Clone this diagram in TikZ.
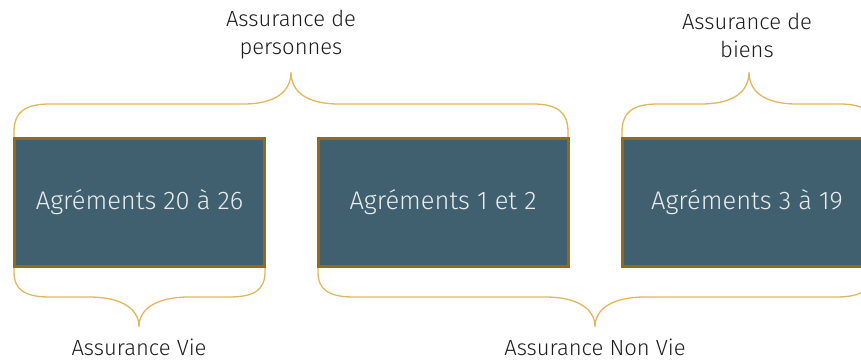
\documentclass[tikz,border=0pt]{standalone}
\usepackage{fontspec}
\setmainfont{Fira Sans}[UprightFont=* Light]
\definecolor{boxfill}{HTML}{41606F}
\definecolor{boxedge}{HTML}{906C16}
\definecolor{bracecol}{HTML}{E2B65C}
\definecolor{boxtext}{HTML}{E8ECEE}
\definecolor{labeltext}{HTML}{1E1E1E}
\begin{document}
\begin{tikzpicture}[x=1pt,y=-1pt,
  agrbox/.style={draw=boxedge,line width=3pt,fill=boxfill,text=boxtext,
    minimum width=250pt,minimum height=128pt,inner sep=0pt,font=\fontsize{25.5}{30}\selectfont},
  brace/.style={draw=bracecol,line width=1.3pt},
  grouplabel/.style={text=labeltext,align=center,font=\fontsize{22}{28}\selectfont}]
\useasboundingbox (0,0) rectangle (861,360);
\begin{scope}
\clip (0,0) rectangle (861,360);
% boxes
\node[agrbox] (vie) at (139.5,202.5) {Agréments 20 à 26};
\node[agrbox] (nvie) at (443,202.5) {Agréments 1 et 2};
\node[agrbox] (biens) at (747,202.5) {Agréments 3 à 19};
% upper braces
\draw[brace] (14,137) -- (14,132) .. controls (14,112) and (25,104) .. (50,104)
  -- (243,104) .. controls (275,104) and (291,92) .. (291,72)
  .. controls (291,92) and (307,104) .. (339,104)
  -- (533,104) .. controls (557,104) and (568,112) .. (568,132) -- (568,137);
\draw[brace] (622,137) -- (622,132) .. controls (622,112) and (633,104) .. (658,104)
  -- (701,104) .. controls (733,104) and (749,92) .. (749,72)
  .. controls (749,92) and (765,104) .. (797,104)
  -- (840,104) .. controls (864,104) and (876,112) .. (876,132) -- (876,137);
% lower braces
\draw[brace] (14,268) -- (14,272) .. controls (14,290) and (25,297) .. (50,297)
  -- (89,297) .. controls (122,297) and (139,309) .. (139,327)
  .. controls (139,309) and (156,297) .. (189,297)
  -- (229,297) .. controls (254,297) and (265,290) .. (265,272) -- (265,268);
\draw[brace] (318,268) -- (318,272) .. controls (318,290) and (329,297) .. (354,297)
  -- (545,297) .. controls (578,297) and (595,309) .. (595,327)
  .. controls (595,309) and (612,297) .. (645,297)
  -- (836,297) .. controls (861,297) and (872,290) .. (872,272) -- (872,268);
\end{scope}
% labels
\node[grouplabel] (lpers) at (291,35) {Assurance de\\personnes};
\node[grouplabel] (lbiens) at (747,35) {Assurance de\\biens};
\node[grouplabel,anchor=base,inner sep=0pt] (lvie) at (139,355) {Assurance Vie};
\node[grouplabel,anchor=base,inner sep=0pt] (lnvie) at (595,355) {Assurance Non Vie};
\end{tikzpicture}
\end{document}
